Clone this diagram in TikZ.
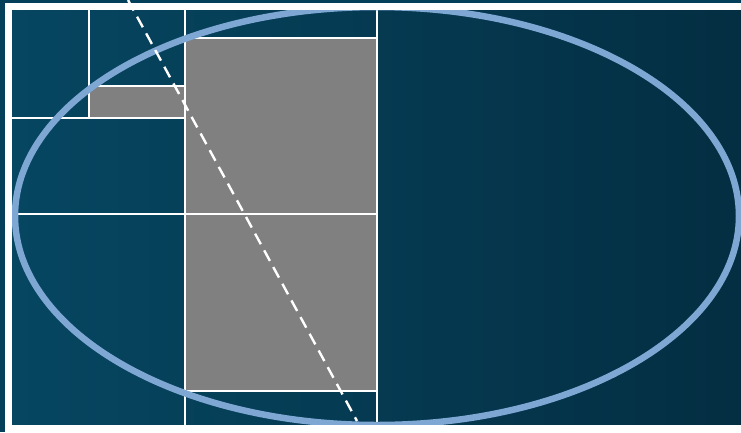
\documentclass[tikz,border=0pt]{standalone}
\usetikzlibrary{calc}
\definecolor{deep}{HTML}{04405A}
\definecolor{deeplt}{HTML}{064661}
\definecolor{deepdk}{HTML}{042E42}
\definecolor{sky}{HTML}{7EA7D4}
\definecolor{slabgray}{HTML}{808080}
\tikzset{
  gridln/.style={draw=white, line width=1.8pt},
  slab/.style={gridln, fill=slabgray},
  ring/.style={draw=sky, line width=6.5pt},
  cutln/.style={draw=white, line width=2.4pt, dash pattern=on 12pt off 7pt},
  border/.style={fill=white},
}

\begin{document}
\begin{tikzpicture}[x=1pt,y=-1pt]
  \useasboundingbox (0,0) rectangle (741,432);
  \fill[deep] (0,0) rectangle (741,432);
  \shade[left color=deeplt, right color=deepdk] (12,10) rectangle (741,425);

  \draw[slab] (89,86) rectangle (185,118);
  \draw[slab] (185,38) rectangle (377,214);
  \draw[slab] (185,214) rectangle (377,391);
  \draw[gridln] (89,10) -- (89,118);
  \draw[gridln] (12,118) -- (185,118);
  \draw[gridln] (12,214) -- (377,214);
  \draw[gridln] (185,10) -- (185,425);
  \draw[gridln] (377,10) -- (377,425);

  \begin{scope}
    \clip (12,10) rectangle (741,425);
    \draw[ring] (377,216) ellipse [x radius=362, y radius=209];
  \end{scope}

  \fill[border] (5,3) rectangle (741,10);
  \fill[border] (5,3) rectangle (12,432);
  \fill[border] (5,425) rectangle (741,432);

  \draw[cutln] (128,0) -- (357,421);
\end{tikzpicture}
\end{document}
